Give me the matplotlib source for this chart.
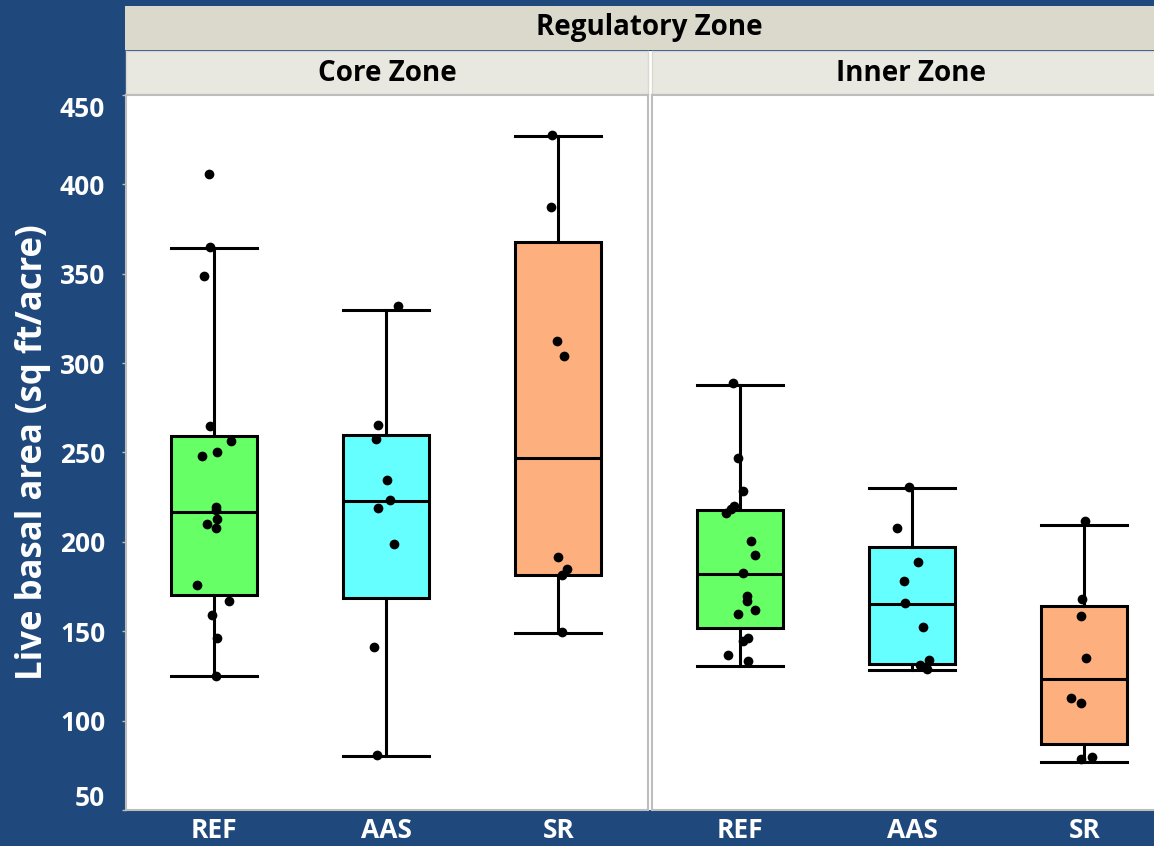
import matplotlib
matplotlib.use("Agg")
import matplotlib.pyplot as plt
import matplotlib.transforms as mtransforms
from matplotlib.patches import Rectangle
import numpy as np

# ---------------- data ----------------
groups = ["REF", "AAS", "SR"]
panels = ["Core Zone", "Inner Zone"]
super_title = "Regulatory Zone"
y_label = "Live basal area (sq ft/acre)"
y_ticks = [50, 100, 150, 200, 250, 300, 350, 400, 450]

# box statistics
core_whislo = [125.0, 80.2, 149.0]
core_q1 = [170.2, 168.5, 181.2]
core_med = [216.5, 222.8, 247.2]
core_q3 = [259.4, 260.0, 367.5]
core_whishi = [364.3, 329.7, 426.9]

inner_whislo = [130.8, 128.2, 76.9]
inner_q1 = [151.8, 131.9, 86.7]
inner_med = [182.1, 165.2, 123.3]
inner_q3 = [217.8, 197.0, 163.9]
inner_whishi = [288.0, 230.3, 209.2]

# individual observations
core_ref = [405.9, 364.7, 348.8, 264.6, 256.5, 250.3, 247.9, 219.7, 218.0, 212.8,
            209.8, 207.6, 175.6, 167.0, 158.9, 146.2, 125.2]
core_aas = [331.8, 265.2, 257.4, 234.7, 223.6, 218.7, 198.8, 141.0, 80.8]
core_sr = [427.5, 387.5, 312.6, 304.2, 191.6, 184.7, 181.7, 149.7]

inner_ref = [288.8, 247.0, 228.4, 220.2, 218.2, 215.9, 200.5, 192.7, 182.8, 169.5,
             166.7, 162.0, 159.6, 146.2, 144.4, 136.6, 133.2]
inner_aas = [230.8, 207.6, 189.0, 178.2, 165.7, 152.2, 133.8, 131.3, 129.1]
inner_sr = [211.6, 168.0, 158.3, 135.0, 112.7, 109.6, 79.8, 78.7]

# horizontal jitter (category units)
core_ref_jit = [-0.03, -0.02, -0.06, -0.02, 0.10, 0.02, -0.07, 0.01, 0.01, 0.02,
                -0.04, 0.01, -0.10, 0.09, -0.01, 0.02, 0.01]
core_aas_jit = [0.07, -0.045, -0.06, 0.005, 0.02, -0.045, 0.045, -0.07, -0.055]
core_sr_jit = [-0.035, -0.045, -0.01, 0.03, 0.0, 0.05, 0.02, 0.02]
inner_ref_jit = [-0.04, -0.01, 0.02, -0.035, -0.05, -0.08, 0.065, 0.085, 0.02, 0.04,
                 0.04, 0.085, -0.01, 0.045, 0.02, -0.07, 0.045]
inner_aas_jit = [-0.02, -0.09, 0.035, -0.045, -0.04, 0.065, 0.10, 0.045, 0.085]
inner_sr_jit = [0.005, -0.015, -0.02, 0.01, -0.08, -0.02, 0.045, -0.02]

# ---------------- style ----------------
BG = "#1F497D"
BOX_COLORS = ["#66FF66", "#66FFFF", "#FDB07D"]
STRIP1 = "#DBD9CB"
STRIP2 = "#E8E8E0"
FONT = ["Open Sans", "DejaVu Sans"]

W, H = 1154, 846
fig = plt.figure(figsize=(W / 100, H / 100), dpi=100, facecolor=BG)


def px_axes(x0, y0, x1, y1, **kw):
    return fig.add_axes([x0 / W, 1 - y1 / H, (x1 - x0) / W, (y1 - y0) / H], **kw)


# white gap between panels (drawn beneath the axes)
fig.patches.append(Rectangle((647 / W, 1 - 810 / H), 6 / W, (810 - 51) / H,
                             transform=fig.transFigure, facecolor="white",
                             edgecolor="none", zorder=-10))

panel_data = [
    (panels[0], (core_whislo, core_q1, core_med, core_q3, core_whishi),
     [core_ref, core_aas, core_sr], [core_ref_jit, core_aas_jit, core_sr_jit]),
    (panels[1], (inner_whislo, inner_q1, inner_med, inner_q3, inner_whishi),
     [inner_ref, inner_aas, inner_sr], [inner_ref_jit, inner_aas_jit, inner_sr_jit]),
]

panel_x = [(126, 648), (652, 1174)]

# super strip
sax = px_axes(125, 6, 1180, 50)
sax.set_facecolor(STRIP1)
sax.set_xticks([]); sax.set_yticks([])
for s in sax.spines.values():
    s.set_visible(False)
sax.text((648 - 125 + 1.5) / (1180 - 125), 0.5, super_title, transform=sax.transAxes,
         ha="center", va="center", fontsize=20, fontweight="bold", family=FONT, color="black")

for i, (name, stats, pts, jits) in enumerate(panel_data):
    x0, x1 = panel_x[i]
    # strip
    st = px_axes(x0, 51, x1, 94)
    st.set_facecolor(STRIP2)
    st.set_xticks([]); st.set_yticks([])
    for s in st.spines.values():
        s.set_color("#D8D8CF"); s.set_linewidth(1)
    tx = 0.5 if i == 0 else (911 - x0) / (x1 - x0)
    st.text(tx, 0.48, name, transform=st.transAxes, ha="center", va="center",
            fontsize=20, fontweight="bold", family=FONT, color="black")

    ax = px_axes(x0, 95, x1, 810)
    ax.set_facecolor("white")
    whislo, q1, med, q3, whishi = stats
    bstats = []
    for k in range(len(groups)):
        bstats.append(dict(whislo=whislo[k], q1=q1[k], med=med[k], q3=q3[k],
                           whishi=whishi[k], fliers=[], label=groups[k]))
    pos = np.arange(len(groups))
    bp = ax.bxp(bstats, positions=pos, widths=0.5, capwidths=0.5, patch_artist=True,
                showfliers=False,
                boxprops=dict(linewidth=2.2, edgecolor="black"),
                medianprops=dict(linewidth=2.2, color="black"),
                whiskerprops=dict(linewidth=2.2, color="black"),
                capprops=dict(linewidth=2.2, color="black"))
    for patch, c in zip(bp["boxes"], BOX_COLORS):
        patch.set_facecolor(c)
    for k in range(len(groups)):
        xs = pos[k] + np.asarray(jits[k])
        ax.plot(xs, pts[k], "o", color="black", markersize=7, markeredgewidth=0, zorder=5)

    ax.set_xlim(-0.51, 2.52)
    ax.set_ylim(50, 450)
    ax.set_xticks(pos)
    ax.set_xticklabels(groups)
    ax.tick_params(axis="x", length=0, pad=5, labelcolor="white", labelsize=19)
    for lab in ax.get_xticklabels():
        lab.set_fontweight("bold"); lab.set_family(FONT)
    for s in ax.spines.values():
        s.set_color("#BDBDBD"); s.set_linewidth(1.5)
    ax.set_yticks(y_ticks)
    if i == 0:
        ax.tick_params(axis="y", length=3, width=1, color="#BDBDBD", pad=12,
                       labelcolor="white", labelsize=19)
        labs = ax.get_yticklabels()
        for lab in labs:
            lab.set_fontweight("bold"); lab.set_family(FONT)
        labs[-1].set_transform(labs[-1].get_transform() +
                               mtransforms.ScaledTranslation(0, -11 / 100, fig.dpi_scale_trans))
        labs[0].set_transform(labs[0].get_transform() +
                              mtransforms.ScaledTranslation(0, 15 / 100, fig.dpi_scale_trans))
    else:
        ax.tick_params(axis="y", length=0, labelleft=False)

fig.text(33 / W, 1 - 452 / H, y_label, rotation=90, ha="center", va="center",
         fontsize=25, fontweight="bold", family=FONT, color="white")

fig.savefig("out.png", dpi=100, facecolor=BG)
